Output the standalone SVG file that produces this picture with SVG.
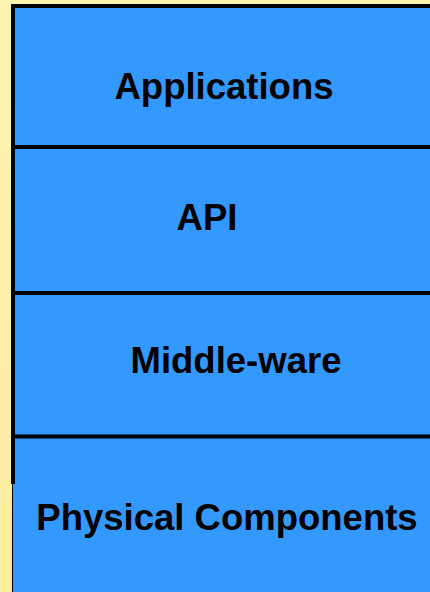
<svg xmlns="http://www.w3.org/2000/svg" width="430" height="592" viewBox="0 0 430 592">
  <defs>
    <linearGradient id="bg" x1="0" y1="0" x2="0" y2="1">
      <stop offset="0" stop-color="#FFF3B0"/>
      <stop offset="1" stop-color="#FFEDA0"/>
    </linearGradient>
  </defs>
  <style>
    .layer { fill: #3399FF; }
    .sep { stroke: #000000; stroke-width: 4; fill: none; }
    .label { font-family: "Liberation Sans", Arial, sans-serif; font-weight: bold; font-size: 36.5px; fill: #000000; text-anchor: middle; }
  </style>
  <rect x="0" y="0" width="430" height="592" fill="url(#bg)"/>
  <g id="applications">
    <rect class="layer" x="13" y="4" width="417" height="143"/>
    <text class="label" x="224" y="99">Applications</text>
  </g>
  <g id="api">
    <rect class="layer" x="13" y="147" width="417" height="146"/>
    <text class="label" x="207" y="230">API</text>
  </g>
  <g id="middleware">
    <rect class="layer" x="13" y="293" width="417" height="144"/>
    <text class="label" x="236" y="373">Middle-ware</text>
  </g>
  <g id="physical">
    <rect class="layer" x="13" y="437" width="417" height="155"/>
    <text class="label" x="227" y="530">Physical Components</text>
  </g>
  <g id="connectors">
    <path class="sep" d="M13 484 V6 H430"/>
    <path class="sep" d="M15 147 H430"/>
    <path class="sep" d="M15 293 H430"/>
    <path class="sep" d="M15 436.5 H430"/>
    <path d="M12.5 484 V592" stroke="#000000" stroke-width="1" fill="none"/>
  </g>
</svg>
